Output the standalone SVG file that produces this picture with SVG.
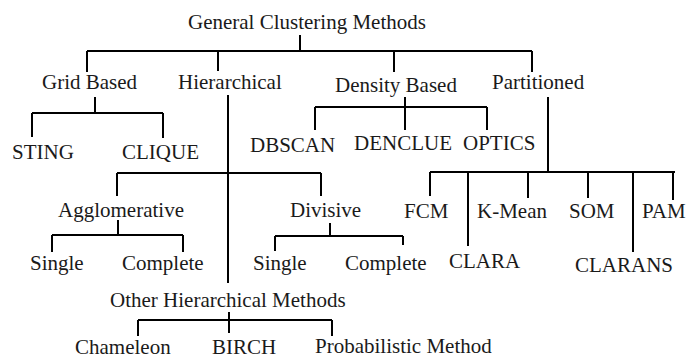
<svg xmlns="http://www.w3.org/2000/svg" width="689" height="360" viewBox="0 0 689 360">
<style>
text{font-family:'Liberation Serif','Times New Roman','DejaVu Serif',serif;font-size:21px;fill:#1a1a1a}
.c path{fill:none;stroke:#000;stroke-width:2}
</style>
<rect width="689" height="360" fill="#fff"/>
<g class="c" id="connectors">
<path d="M300 35V51M87 51H532M87 51V72M218 51V71M394 51V72M532 51V72"/>
<path d="M95 97V113M32 113H163M32 113V137M163 113V138"/>
<path d="M405 97V130M315 107H487M315 107V130M487 107V130"/>
<path d="M548 97V172M430 172H675M430 172V196M468 172V246M528 172V198M588 172V198M633 172V252M673 172V200"/>
<path d="M228 95V283M117 173H321M117 173V196M321 173V196"/>
<path d="M118 220V235M52 235H183M52 235V252M183 235V252"/>
<path d="M330 223V236M275 236H403M275 236V251M403 236V245"/>
<path d="M229 312V333M138 320H332M138 320V336M332 320V336"/>
</g>
<g id="root"><text x="188" y="29">General Clustering Methods</text></g>
<g id="grid"><text x="42" y="89">Grid Based</text></g>
<g id="hier"><text x="178" y="89">Hierarchical</text></g>
<g id="density"><text x="335" y="92">Density Based</text></g>
<g id="part"><text x="492" y="89">Partitioned</text></g>
<g id="sting"><text x="12" y="159">STING</text></g>
<g id="clique"><text x="122" y="159">CLIQUE</text></g>
<g id="dbscan"><text x="250" y="152">DBSCAN</text></g>
<g id="denclue"><text x="354" y="150">DENCLUE</text></g>
<g id="optics"><text x="463" y="150">OPTICS</text></g>
<g id="fcm"><text x="404" y="218">FCM</text></g>
<g id="kmean"><text x="477" y="218">K-Mean</text></g>
<g id="som"><text x="569" y="218">SOM</text></g>
<g id="pam"><text x="642" y="218">PAM</text></g>
<g id="clara"><text x="449" y="268">CLARA</text></g>
<g id="clarans"><text x="575" y="272">CLARANS</text></g>
<g id="agglo"><text x="58" y="217">Agglomerative</text></g>
<g id="divisive"><text x="290" y="217">Divisive</text></g>
<g id="single1"><text x="30" y="270">Single</text></g>
<g id="complete1"><text x="122" y="270">Complete</text></g>
<g id="single2"><text x="253" y="270">Single</text></g>
<g id="complete2"><text x="345" y="270">Complete</text></g>
<g id="other"><text x="110" y="307">Other Hierarchical Methods</text></g>
<g id="chameleon"><text x="75" y="354">Chameleon</text></g>
<g id="birch"><text x="212" y="354">BIRCH</text></g>
<g id="prob"><text x="315" y="353">Probabilistic Method</text></g>
</svg>
